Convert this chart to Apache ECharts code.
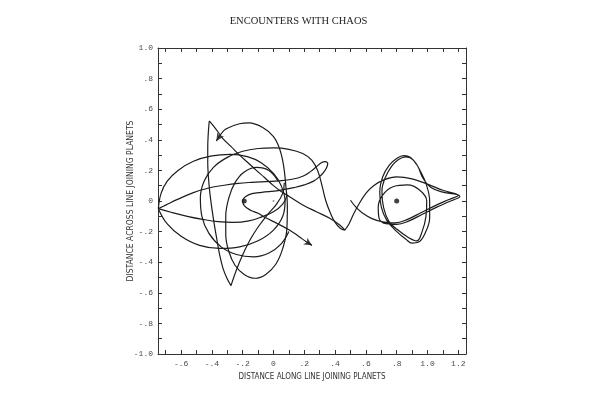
<!DOCTYPE html>
<html>
<head>
<meta charset="utf-8">
<script src="https://cdn.jsdelivr.net/npm/echarts@6/dist/echarts.min.js"></script>
<style>
html,body{margin:0;padding:0;background:#fff;}
#chart{width:597px;height:394px;}
</style>
</head>
<body>
<div id="chart"></div>
<script>
// ---- tick values and labels ----
const xTickValues = [-0.7,-0.6,-0.5,-0.4,-0.3,-0.2,-0.1,0,0.1,0.2,0.3,0.4,0.5,0.6,0.7,0.8,0.9,1.0,1.1,1.2];
const xLabelValues = [-0.6,-0.4,-0.2,0,0.2,0.4,0.6,0.8,1.0,1.2];
const xLabelTexts = ['-.6','-.4','-.2','0','.2','.4','.6','.8','1.0','1.2'];
const yTickValues = [-0.9,-0.8,-0.7,-0.6,-0.5,-0.4,-0.3,-0.2,-0.1,0,0.1,0.2,0.3,0.4,0.5,0.6,0.7,0.8,0.9];
const yLabelValues = [-1.0,-0.8,-0.6,-0.4,-0.2,0,0.2,0.4,0.6,0.8,1.0];
const yLabelTexts = ['-1.0','-.8','-.6','-.4','-.2','0','.2','.4','.6','.8','1.0'];

// ---- planets ----
const planets = [[-0.19,0],[0.8,0]];
const centerOfMass = [[0,0]];

// ---- trajectory strands ----
const topCuspToV = [[-0.417,0.523],[-0.37,0.465],[-0.33,0.41],[-0.275,0.355],[-0.22,0.3],[-0.165,0.25],[-0.113,0.202],[-0.06,0.155],[-0.004,0.104],[0.05,0.062],[0.104,0.028],[0.19,-0.026],[0.278,-0.07],[0.365,-0.113],[0.43,-0.157],[0.463,-0.19]];
const topCuspToBottomCusp = [[-0.417,0.523],[-0.423,0.45],[-0.427,0.35],[-0.427,0.25],[-0.422,0.15],[-0.413,0.05],[-0.4,-0.05],[-0.385,-0.15],[-0.368,-0.25],[-0.35,-0.35],[-0.328,-0.44],[-0.3,-0.51],[-0.276,-0.553]];
const bottomCuspArm = [[-0.276,-0.553],[-0.255,-0.49],[-0.225,-0.41],[-0.19,-0.33],[-0.15,-0.25],[-0.1,-0.17],[-0.04,-0.09],[0.02,-0.02],[0.06,0.05],[0.07,0.12]];
const loopToFarLeft = [[0.352,0.25],[0.335,0.258],[0.31,0.25],[0.28,0.225],[0.24,0.192],[0.19,0.162],[0.12,0.142],[0.04,0.132],[-0.05,0.127],[-0.14,0.122],[-0.23,0.115],[-0.32,0.103],[-0.42,0.085],[-0.52,0.055],[-0.62,0.012],[-0.7,-0.027],[-0.748,-0.05]];
const farLeftLower = [[-0.748,-0.05],[-0.66,-0.075],[-0.56,-0.1],[-0.46,-0.12],[-0.36,-0.135],[-0.26,-0.14],[-0.16,-0.13],[-0.08,-0.105],[0.0,-0.07],[0.06,-0.02],[0.09,0.04]];
const wideEllipse = [[-0.748,-0.05],[-0.73,0.05],[-0.69,0.13],[-0.62,0.2],[-0.52,0.26],[-0.4,0.295],[-0.28,0.305],[-0.17,0.29],[-0.08,0.25],[0.0,0.18],[0.05,0.1],[0.075,0.0],[0.06,-0.1],[0.0,-0.19],[-0.1,-0.26],[-0.22,-0.3],[-0.35,-0.31],[-0.48,-0.29],[-0.6,-0.23],[-0.69,-0.15],[-0.748,-0.05]];
const bigArcToV = [[0.1,-0.2],[0.05,-0.28],[-0.03,-0.34],[-0.13,-0.365],[-0.24,-0.35],[-0.34,-0.3],[-0.42,-0.21],[-0.465,-0.1],[-0.475,0.02],[-0.45,0.13],[-0.39,0.22],[-0.3,0.285],[-0.2,0.325],[-0.1,0.343],[0.0,0.347],[0.1,0.338],[0.19,0.31],[0.25,0.265],[0.29,0.19],[0.315,0.1],[0.34,0.0],[0.37,-0.08],[0.4,-0.14],[0.435,-0.18],[0.463,-0.19]];
const tallLoopToArrow = [[0.03,0.13],[-0.03,0.2],[-0.11,0.22],[-0.19,0.19],[-0.25,0.12],[-0.29,0.02],[-0.31,-0.1],[-0.31,-0.22],[-0.29,-0.33],[-0.25,-0.42],[-0.19,-0.48],[-0.12,-0.505],[-0.05,-0.48],[0.017,-0.41],[0.06,-0.31],[0.087,-0.18],[0.09,-0.03],[0.08,0.1],[0.065,0.235],[0.04,0.34],[0.0,0.42],[-0.07,0.48],[-0.16,0.51],[-0.22,0.505],[-0.31,0.47],[-0.35,0.425],[-0.371,0.392]];
const loopHookToArrow = [[0.352,0.25],[0.35,0.232],[0.335,0.2],[0.305,0.165],[0.26,0.13],[0.2,0.105],[0.131,0.087],[0.032,0.068],[-0.077,0.057],[-0.14,0.048],[-0.18,0.03],[-0.2,0.004],[-0.19,-0.03],[-0.15,-0.06],[-0.1,-0.08],[-0.05,-0.11],[0.03,-0.15],[0.1,-0.188],[0.16,-0.228],[0.215,-0.268],[0.25,-0.29]];
const rightPlanetPath = [[0.463,-0.19],[0.49,-0.15],[0.52,-0.085],[0.555,-0.02],[0.6,0.05],[0.65,0.1],[0.72,0.14],[0.8,0.158],[0.9,0.145],[1.0,0.11],[1.1,0.07],[1.21,0.03],[1.15,0.0],[1.06,-0.04],[0.97,-0.085],[0.88,-0.13],[0.8,-0.153],[0.73,-0.148],[0.685,-0.11],[0.68,-0.04],[0.71,0.04],[0.78,0.095],[0.87,0.105],[0.95,0.07],[0.995,0.0],[0.99,-0.1],[0.965,-0.2],[0.93,-0.261],[0.878,-0.24],[0.802,-0.185],[0.748,-0.131],[0.715,-0.044],[0.704,0.065],[0.726,0.153],[0.769,0.229],[0.812,0.272],[0.862,0.288],[0.91,0.266],[0.953,0.196],[0.992,0.109],[1.014,0.0],[1.014,-0.109],[0.986,-0.207],[0.94,-0.27],[0.9,-0.275],[0.86,-0.25],[0.79,-0.19],[0.735,-0.125],[0.7,-0.04],[0.69,0.06],[0.71,0.16],[0.752,0.235],[0.8,0.278],[0.845,0.296],[0.89,0.285],[0.935,0.23],[0.97,0.15],[1.02,0.09],[1.1,0.058],[1.2,0.036],[1.14,0.01],[1.05,-0.03],[0.96,-0.075],[0.87,-0.12],[0.79,-0.143],[0.71,-0.137],[0.64,-0.115],[0.58,-0.08],[0.535,-0.04],[0.5,0.005]];

const strands = [topCuspToV, topCuspToBottomCusp, bottomCuspArm, loopToFarLeft, farLeftLower, wideEllipse, bigArcToV, tallLoopToArrow, loopHookToArrow, rightPlanetPath];
const arrowStrands = [tallLoopToArrow, loopHookToArrow];

const chart = echarts.init(document.getElementById('chart'), null, {renderer:'canvas'});

const grid = {left:158, top:48, right:131, bottom:40};
const plotW = 597 - grid.left - grid.right, plotH = 394 - grid.top - grid.bottom;
const X_MIN = -0.75, X_MAX = 1.25, Y_MIN = -1, Y_MAX = 1;

function labelFor(values, texts){
  return function(v){
    for (let i=0;i<values.length;i++) if (Math.abs(values[i]-v)<1e-6) return texts[i];
    return '';
  };
}

const lineColor = '#1c1c1c';
const axisColor = '#333';
const labelStyle = {color:'#4a4a4a', fontFamily:'Liberation Mono, DejaVu Sans Mono, monospace', fontSize:8};
const nameFont = 'Liberation Sans Narrow, DejaVu Sans Condensed, Liberation Sans, sans-serif';

const series = strands.map(s => ({
  type:'line', data:s, smooth:0.4, symbol:'none', silent:true,
  lineStyle:{color:lineColor, width:1.2}, xAxisIndex:0, yAxisIndex:0, z:3
}));

// arrowheads at the ends of strands, oriented along last segment (pixel space)
const arrowData = arrowStrands.map(s => {
  const a = s[s.length-2], b = s[s.length-1];
  const dx = (b[0]-a[0]) * plotW/(X_MAX-X_MIN);
  const dy = (b[1]-a[1]) * plotH/(Y_MAX-Y_MIN);
  const ang = Math.atan2(dy, dx) * 180/Math.PI;
  return {value:b, symbolRotate: ang - 90};
});
series.push({type:'scatter', data:arrowData, symbol:'arrow', symbolSize:[6,8], itemStyle:{color:lineColor}, silent:true, z:4});
series.push({type:'scatter', data:planets, symbol:'circle', symbolSize:5, itemStyle:{color:'#111'}, silent:true, z:5});
series.push({type:'scatter', data:centerOfMass, symbol:'circle', symbolSize:2, itemStyle:{color:'#777'}, silent:true, z:5});

const option = {
  backgroundColor:'#ffffff',
  animation:false,
  title:{
    text:'ENCOUNTERS WITH CHAOS', left:'center', top:11,
    textStyle:{fontFamily:'Liberation Serif, serif', fontSize:10.5, fontWeight:'normal', color:'#222'}
  },
  grid:grid,
  xAxis:[
    {type:'value', min:X_MIN, max:X_MAX, position:'bottom',
     name:'DISTANCE ALONG LINE JOINING PLANETS', nameLocation:'middle', nameGap:19, nameMoveOverlap:false,
     nameTextStyle:{fontFamily:nameFont, fontSize:8, color:'#333'},
     axisLine:{show:true, onZero:false, lineStyle:{color:axisColor, width:1}},
     axisTick:{show:true, inside:true, length:4, customValues:xTickValues, lineStyle:{color:axisColor}},
     axisLabel:{show:true, customValues:xLabelValues, formatter:labelFor(xLabelValues,xLabelTexts), margin:6, ...labelStyle},
     splitLine:{show:false}},
    {type:'value', min:X_MIN, max:X_MAX, position:'top',
     axisLine:{show:true, onZero:false, lineStyle:{color:axisColor, width:1}},
     axisTick:{show:true, inside:true, length:4, customValues:xTickValues, lineStyle:{color:axisColor}},
     axisLabel:{show:false}, splitLine:{show:false}}
  ],
  yAxis:[
    {type:'value', min:Y_MIN, max:Y_MAX, position:'left',
     name:'DISTANCE ACROSS LINE JOINING PLANETS', nameLocation:'middle', nameGap:23, nameRotate:90, nameMoveOverlap:false,
     nameTextStyle:{fontFamily:nameFont, fontSize:8.5, color:'#333'},
     axisLine:{show:true, onZero:false, lineStyle:{color:axisColor, width:1}},
     axisTick:{show:true, inside:true, length:4, customValues:yTickValues, lineStyle:{color:axisColor}},
     axisLabel:{show:true, customValues:yLabelValues, formatter:labelFor(yLabelValues,yLabelTexts), margin:5, ...labelStyle},
     splitLine:{show:false}},
    {type:'value', min:Y_MIN, max:Y_MAX, position:'right',
     axisLine:{show:true, onZero:false, lineStyle:{color:axisColor, width:1}},
     axisTick:{show:true, inside:true, length:4, customValues:yTickValues, lineStyle:{color:axisColor}},
     axisLabel:{show:false}, splitLine:{show:false}}
  ],
  series:series
};
chart.setOption(option);
</script>
</body>
</html>
